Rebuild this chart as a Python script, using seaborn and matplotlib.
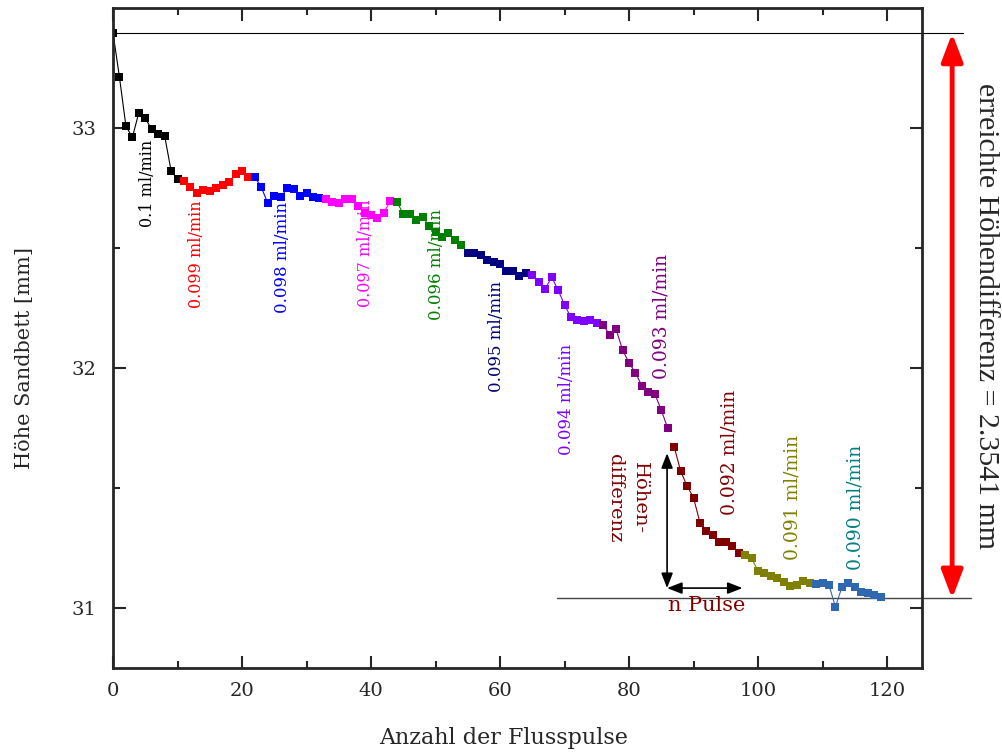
import numpy as np
import pandas as pd
import matplotlib
matplotlib.use("Agg")
import matplotlib.pyplot as plt
import seaborn as sns

# Sand-bed height per flow pulse, grouped by pump rate
rates = ["0.1", "0.099", "0.098", "0.097", "0.096", "0.095",
         "0.094", "0.093", "0.092", "0.091", "0.090"]
seg_len = [11, 11, 11, 11, 11, 10, 11, 11, 11, 11, 11]
heights = [
    # 0.1 ml/min
    33.396, 33.211, 33.008, 32.961, 33.064, 33.040, 32.995, 32.976, 32.968, 32.822, 32.786,
    # 0.099 ml/min
    32.779, 32.753, 32.728, 32.742, 32.739, 32.751, 32.761, 32.774, 32.810, 32.822, 32.795,
    # 0.098 ml/min
    32.795, 32.753, 32.686, 32.718, 32.711, 32.749, 32.745, 32.717, 32.728, 32.711, 32.707,
    # 0.097 ml/min
    32.703, 32.693, 32.689, 32.705, 32.703, 32.675, 32.647, 32.638, 32.624, 32.647, 32.697,
    # 0.096 ml/min
    32.693, 32.642, 32.642, 32.617, 32.630, 32.592, 32.568, 32.547, 32.561, 32.533, 32.513,
    # 0.095 ml/min
    32.478, 32.478, 32.471, 32.450, 32.443, 32.433, 32.405, 32.405, 32.383, 32.397,
    # 0.094 ml/min
    32.388, 32.360, 32.328, 32.380, 32.325, 32.263, 32.211, 32.200, 32.196, 32.200, 32.186,
    # 0.093 ml/min
    32.179, 32.138, 32.161, 32.075, 32.022, 31.980, 31.925, 31.901, 31.892, 31.825, 31.749,
    # 0.092 ml/min
    31.672, 31.571, 31.508, 31.460, 31.355, 31.322, 31.304, 31.276, 31.274, 31.258, 31.230,
    # 0.091 ml/min
    31.221, 31.207, 31.155, 31.144, 31.133, 31.124, 31.110, 31.092, 31.096, 31.113, 31.105,
    # 0.090 ml/min
    31.100, 31.105, 31.096, 31.005, 31.086, 31.103, 31.089, 31.068, 31.061, 31.054, 31.045,
]
pulses = list(range(len(heights)))

point_colors = ["#000000", "#FF0000", "#0000FF", "#FF00FF", "#008000", "#000080",
                "#8000FF", "#800080", "#800000", "#808000", "#3068B0"]
label_colors = point_colors[:-1] + ["#008080"]

# label anchor (pulse, height) and size for each rate annotation
label_x = [5.3, 13.0, 26.2, 39.1, 50.2, 59.5, 70.3, 85.0, 95.6, 105.3, 115.1]
label_y = [32.77, 32.475, 32.46, 32.48, 32.43, 32.133, 31.867, 32.215, 31.65, 31.46, 31.42]
label_size = [11.5, 11.5, 12, 11.5, 12, 12, 12, 13.5, 13.5, 13.5, 13.5]

h_start = 33.3941
h_end = 31.04
h_diff = 2.3541

rate_col = []
for r, n in zip(rates, seg_len):
    rate_col += [r] * n
df = pd.DataFrame({"Pulse": pulses, "Hoehe": heights, "Rate": rate_col})

sns.set_style("ticks")
plt.rcParams["font.family"] = ["DejaVu Serif"]

fig = plt.figure(figsize=(10.02, 7.56), dpi=100)
ax = fig.add_axes([0.1128, 0.1164, 0.8072, 0.8730])

sns.lineplot(data=df, x="Pulse", y="Hoehe", hue="Rate", hue_order=rates,
             palette=dict(zip(rates, point_colors)), marker="s", markersize=5.5,
             markeredgewidth=0, linewidth=0.8, estimator=None, sort=False,
             legend=False, ax=ax)

# reference lines for start and end height
ax.plot([0, 131.8], [h_start, h_start], color="black", lw=0.8, clip_on=False, zorder=1)
ax.plot([68.8, 133.0], [h_end, h_end], color="#444444", lw=1.0, clip_on=False, zorder=1)
ax.annotate("", xy=(130.1, h_end), xytext=(130.1, h_start),
            arrowprops=dict(arrowstyle="<|-|>,head_length=1.7,head_width=0.65",
                            color="#FF0000", lw=3.5, shrinkA=0, shrinkB=0),
            annotation_clip=False)
ax.text(135.3, (h_start + h_end) / 2, f"erreichte Höhendifferenz = {h_diff} mm",
        rotation=-90, ha="center", va="center", fontsize=21.5,
        family="Liberation Serif", clip_on=False)

for r, c, lx, ly, fs in zip(rates, label_colors, label_x, label_y, label_size):
    ax.text(lx, ly, f"{r} ml/min", rotation=90, ha="center", va="center",
            color=c, fontsize=fs)

# slope sketch: height difference over n pulses
ax.annotate("", xy=(85.9, 31.645), xytext=(85.9, 31.083),
            arrowprops=dict(arrowstyle="<|-|>,head_length=0.9,head_width=0.35",
                            color="black", lw=1.2, shrinkA=0, shrinkB=0))
ax.annotate("", xy=(97.6, 31.083), xytext=(85.9, 31.083),
            arrowprops=dict(arrowstyle="<|-|>,head_length=0.9,head_width=0.35",
                            color="black", lw=1.2, shrinkA=0, shrinkB=0))
ax.text(92.1, 31.01, "n Pulse", ha="center", va="center", color="#800000", fontsize=15)
ax.text(79.8, 31.458, "Höhen-\ndifferenz", rotation=-90, ha="center", va="center",
        color="#800000", fontsize=14, multialignment="center", linespacing=1.5)

ax.set_xlim(0, 125.4)
ax.set_ylim(30.75, 33.5)
ax.set_xticks(np.arange(0, 121, 20))
ax.set_xticks(np.arange(10, 121, 20), minor=True)
ax.set_yticks([31, 32, 33])
ax.set_yticks([31.5, 32.5], minor=True)
ax.tick_params(which="both", direction="in", top=True, right=True, width=1.5,
               labelsize=14)
ax.tick_params(which="major", length=9)
ax.tick_params(which="minor", length=5)
for s in ax.spines.values():
    s.set_linewidth(2)
ax.set_xlabel("Anzahl der Flusspulse", fontsize=16)
ax.set_ylabel("Höhe Sandbett [mm]", fontsize=15)
ax.xaxis.set_label_coords(0.483, -0.09)
ax.yaxis.set_label_coords(-0.098, 0.47)
ax.tick_params(axis="x", pad=10)
ax.tick_params(axis="y", pad=12)

fig.savefig("out.png", dpi=100)
